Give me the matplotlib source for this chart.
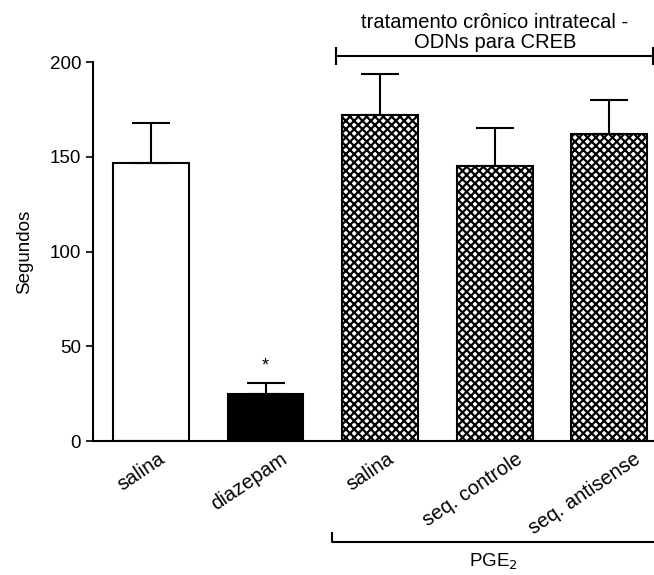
import matplotlib.pyplot as plt
from matplotlib.transforms import ScaledTranslation

plt.rcParams['font.family'] = ['Liberation Sans', 'DejaVu Sans']
plt.rcParams['hatch.linewidth'] = 1.6

grupos = ['salina', 'diazepam', 'salina', 'seq. controle', 'seq. antisense']
medias = [147, 25, 172, 145, 162]
epm = [21, 5.5, 21.5, 20, 18]
cores = ['white', 'black', 'white', 'white', 'white']
hachuras = ['', '', 'xxxx', 'xxxx', 'xxxx']

fig = plt.figure(figsize=(6.54, 5.75), dpi=100)
ax = fig.add_axes([0.142, 0.233, 0.858, 0.659])

x = list(range(len(grupos)))
barras = ax.bar(x, medias, width=0.66, color=cores, edgecolor='black', linewidth=1.5)
for b, h in zip(barras, hachuras):
    b.set_hatch(h)
ax.errorbar(x, medias, yerr=[[0] * len(epm), epm], fmt='none', ecolor='black',
            elinewidth=1.5, capsize=13.5, capthick=1.5)

# diferença significativa vs salina
ax.text(1, medias[1] + epm[1] + 4.5, '*', ha='center', va='bottom', fontsize=13)

ax.set_xlim(-0.507, 4.39)
ax.set_ylim(0, 200)
ax.set_yticks([0, 50, 100, 150, 200])
ax.set_xticks(x)
ax.tick_params(axis='y', labelsize=13.5, length=5, width=1.2)
ax.tick_params(axis='x', length=0, pad=6)
ax.set_xticklabels(grupos, rotation=34, ha='center', va='top', fontsize=14.5)
ax.set_ylabel('Segundos', fontsize=13.5, labelpad=12)
for s in ['top', 'right']:
    ax.spines[s].set_visible(False)
for s in ['left', 'bottom']:
    ax.spines[s].set_linewidth(1.5)

# rótulos inclinados: quanto mais longo, mais para a esquerda
# (depois do tick_params, que refaz o transform dos rótulos)
fig.canvas.draw()
rend = fig.canvas.get_renderer()
for lab in ax.get_xticklabels():
    w = lab.get_window_extent(rend).width
    dx = 2.5 - 0.23 * w
    lab.set_transform(lab.get_transform() + ScaledTranslation(dx / 100, 0, fig.dpi_scale_trans))

# chave superior: tratamento intratecal
yt = 203.2
ax.plot([1.616, 4.384], [yt, yt], color='black', lw=1.5, clip_on=False)
for xe in [1.616, 4.384]:
    ax.plot([xe, xe], [yt - 4.2, yt + 4.2], color='black', lw=1.5, clip_on=False)
ax.text(3.0, 205.5, 'tratamento crônico intratecal -\nODNs para CREB', ha='center',
        va='bottom', fontsize=14.5, linespacing=1.05)

# chave inferior: PGE2
yb = -53.3
ax.plot([1.58, 1.58, 4.39], [yb + 4.5, yb, yb], color='black', lw=1.5, clip_on=False)
ax.text(2.99, -58.5, r'PGE$_2$', ha='center', va='top', fontsize=13.5)

fig.savefig('out.png', dpi=100)
